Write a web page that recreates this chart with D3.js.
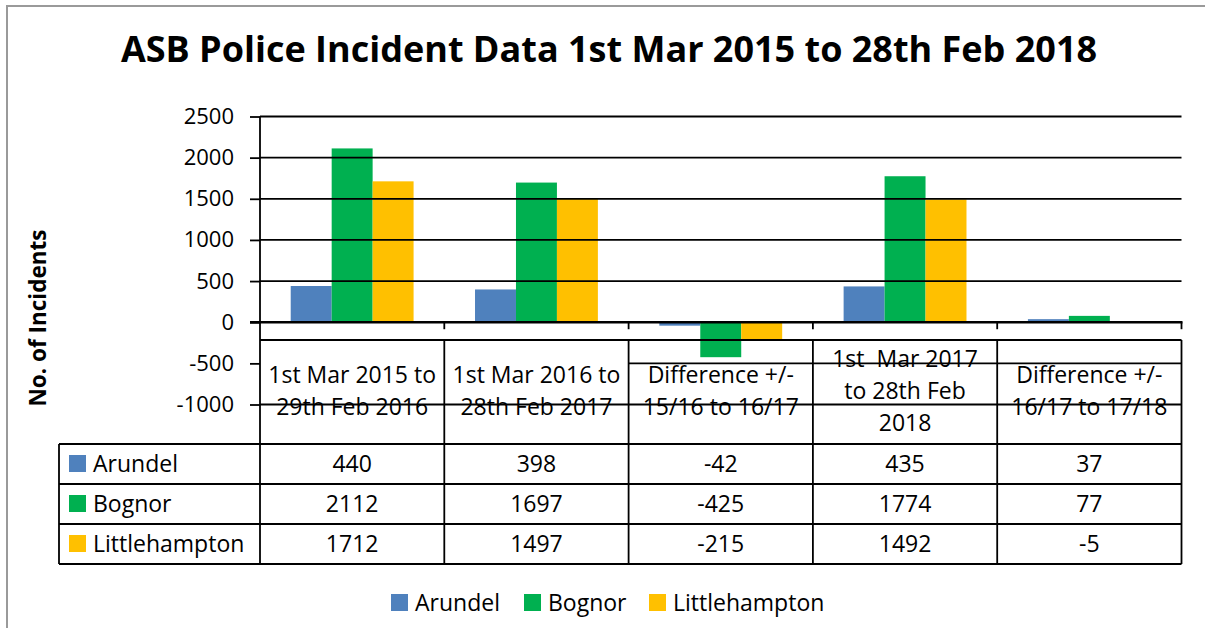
<!DOCTYPE html>
<html>
<head>
<meta charset="utf-8">
<script src="https://cdn.jsdelivr.net/npm/d3@7"></script>
<style>
  body { margin: 0; background: #fff; }
  svg text { font-family: "Open Sans", Lato, sans-serif; fill: #000; }
</style>
</head>
<body>
<div id="chart"></div>
<script>
// chart data
const categories = [
    ["1st Mar 2015 to", "29th Feb 2016"],
    ["1st Mar 2016 to", "28th Feb 2017"],
    ["Difference +/-", "15/16 to 16/17"],
    ["1st  Mar 2017", "to 28th Feb", "2018"],
    ["Difference +/-", "16/17 to 17/18"]
];
const series = ["Arundel", "Bognor", "Littlehampton"];
const arundel = [440, 398, -42, 435, 37];
const bognor = [2112, 1697, -425, 1774, 77];
const littlehampton = [1712, 1497, -215, 1492, -5];
const yTicks = [-1000, -500, 0, 500, 1000, 1500, 2000, 2500];
const colors = ["#4F81BD", "#00B050", "#FFC000"];

const W = 1205, H = 628;
const plot = {left: 260, right: 1181.5, top: 116.5, bottom: 404.5};
const table = {left: 59, headTop: 340, headBottom: 444, rowH: 40};
const fontSize = "23px";

const values = [arundel, bognor, littlehampton];

const svg = d3.select("#chart").append("svg")
    .attr("width", W)
    .attr("height", H);

// outer chart border (only top/left visible in the picture)
svg.append("rect")
    .attr("x", 7).attr("y", 6)
    .attr("width", W + 10).attr("height", H + 10)
    .attr("fill", "none")
    .attr("stroke", "#9a9a9a")
    .attr("stroke-width", 2);

// title
svg.append("text")
    .attr("x", 609).attr("y", 62)
    .attr("text-anchor", "middle")
    .style("font-size", "36px")
    .style("font-weight", "bold")
    .text("ASB Police Incident Data 1st Mar 2015 to 28th Feb 2018");

var x = d3.scaleBand()
    .domain(d3.range(categories.length))
    .range([plot.left, plot.right]);

var xs = d3.scaleBand()
    .domain(series)
    .range([0, x.bandwidth()])
    .paddingOuter(0.75)
    .paddingInner(0);

var y = d3.scaleLinear()
    .domain([-1000, 2500])
    .range([plot.bottom, plot.top]);

// bars
var groups = svg.selectAll(".series")
    .data(series)
    .enter()
    .append("g")
    .attr("class", "series")
    .attr("fill", function(d, i) { return colors[i]; });

groups.selectAll("rect")
    .data(function(d, i) { return values[i].map(function(v, j) { return {s: d, v: v, c: j}; }); })
    .enter()
    .append("rect")
    .attr("x", function(d) { return x(d.c) + xs(d.s); })
    .attr("width", xs.bandwidth())
    .attr("y", function(d) { return y(Math.max(0, d.v)); })
    .attr("height", function(d) { return Math.abs(y(d.v) - y(0)); });

// gridlines
var lineColor = "#000";
yTicks.forEach(function(t) {
    if (t === 0) return;
    var x1 = plot.left;
    if (t === -500) x1 = x(2);   // hidden behind the first two header cells in the original
    svg.append("line")
        .attr("x1", x1).attr("x2", plot.right)
        .attr("y1", y(t)).attr("y2", y(t))
        .attr("stroke", lineColor)
        .attr("stroke-width", 1.8);
});

// y axis with ticks
var yAxis = svg.append("g")
    .attr("transform", `translate(${plot.left},0)`)
    .call(d3.axisLeft(y).tickValues(yTicks).tickSize(10).tickPadding(16)
        .tickFormat(function(d) { return String(d); }));
yAxis.select(".domain").remove();
yAxis.selectAll(".tick line").attr("stroke", lineColor).attr("stroke-width", 1.8);
yAxis.selectAll(".tick text")
    .style("font-size", "22px")
    .style("font-family", "'Open Sans', Lato, sans-serif")
    .attr("fill", "#000");

// y axis title
svg.append("text")
    .attr("transform", `translate(46, ${318}) rotate(-90)`)
    .attr("text-anchor", "middle")
    .style("font-size", "22.5px")
    .style("font-weight", "bold")
    .text("No. of Incidents");

// table geometry
var tableBottom = table.headBottom + table.rowH * series.length;

// zero line with small ticks at category boundaries
svg.append("line")
    .attr("x1", plot.left - 10).attr("x2", plot.right + 1)
    .attr("y1", y(0)).attr("y2", y(0))
    .attr("stroke", lineColor).attr("stroke-width", 2.4);
d3.range(1, categories.length + 1).forEach(function(i) {
    var xx = i < categories.length ? x(i) : plot.right;
    svg.append("line")
        .attr("x1", xx).attr("x2", xx)
        .attr("y1", y(0)).attr("y2", y(0) + 7)
        .attr("stroke", lineColor).attr("stroke-width", 1.8);
});

// vertical axis line down through the table
svg.append("line")
    .attr("x1", plot.left).attr("x2", plot.left)
    .attr("y1", plot.top).attr("y2", tableBottom)
    .attr("stroke", lineColor).attr("stroke-width", 1.8);

// table horizontal lines
var hLines = [table.headTop, table.headBottom];
series.forEach(function(s, i) { hLines.push(table.headBottom + table.rowH * (i + 1)); });
hLines.forEach(function(hy, i) {
    svg.append("line")
        .attr("x1", i === 0 ? plot.left : table.left).attr("x2", plot.right)
        .attr("y1", hy).attr("y2", hy)
        .attr("stroke", lineColor).attr("stroke-width", 1.8);
});

// table vertical lines
d3.range(1, categories.length + 1).forEach(function(i) {
    var xx = i < categories.length ? x(i) : plot.right;
    svg.append("line")
        .attr("x1", xx).attr("x2", xx)
        .attr("y1", table.headTop).attr("y2", tableBottom)
        .attr("stroke", lineColor).attr("stroke-width", 1.8);
});
svg.append("line")
    .attr("x1", table.left).attr("x2", table.left)
    .attr("y1", table.headBottom).attr("y2", tableBottom)
    .attr("stroke", lineColor).attr("stroke-width", 1.8);

// header labels
var headMid = (table.headTop + table.headBottom) / 2 - 1;
var lineH = 32;
categories.forEach(function(lines, i) {
    var t = svg.append("text")
        .attr("x", x(i) + x.bandwidth() / 2)
        .attr("text-anchor", "middle")
        .style("font-size", fontSize)
        .style("white-space", "pre");
    lines.forEach(function(l, k) {
        t.append("tspan")
            .attr("x", x(i) + x.bandwidth() / 2)
            .attr("y", headMid + (k - (lines.length - 1) / 2) * lineH)
            .attr("dy", "0.35em")
            .text(l);
    });
});

// data rows
series.forEach(function(s, r) {
    var cy = table.headBottom + table.rowH * r + table.rowH / 2;
    svg.append("rect")
        .attr("x", 69).attr("y", cy - 9)
        .attr("width", 17).attr("height", 17)
        .attr("fill", colors[r]);
    svg.append("text")
        .attr("x", 93).attr("y", cy)
        .attr("dy", "0.35em")
        .style("font-size", fontSize)
        .text(s);
    values[r].forEach(function(v, c) {
        svg.append("text")
            .attr("x", x(c) + x.bandwidth() / 2)
            .attr("y", cy)
            .attr("dy", "0.35em")
            .attr("text-anchor", "middle")
            .style("font-size", fontSize)
            .text(v);
    });
});

// bottom legend
var legendX = [391, 524, 649];
var legend = svg.selectAll(".legend")
    .data(series)
    .enter()
    .append("g")
    .attr("class", "legend")
    .attr("transform", function(d, i) { return `translate(${legendX[i]}, 594)`; });
legend.append("rect")
    .attr("width", 17).attr("height", 17)
    .attr("fill", function(d, i) { return colors[i]; });
legend.append("text")
    .attr("x", 24).attr("y", 9)
    .attr("dy", "0.35em")
    .style("font-size", fontSize)
    .text(function(d) { return d; });
</script>
</body>
</html>
